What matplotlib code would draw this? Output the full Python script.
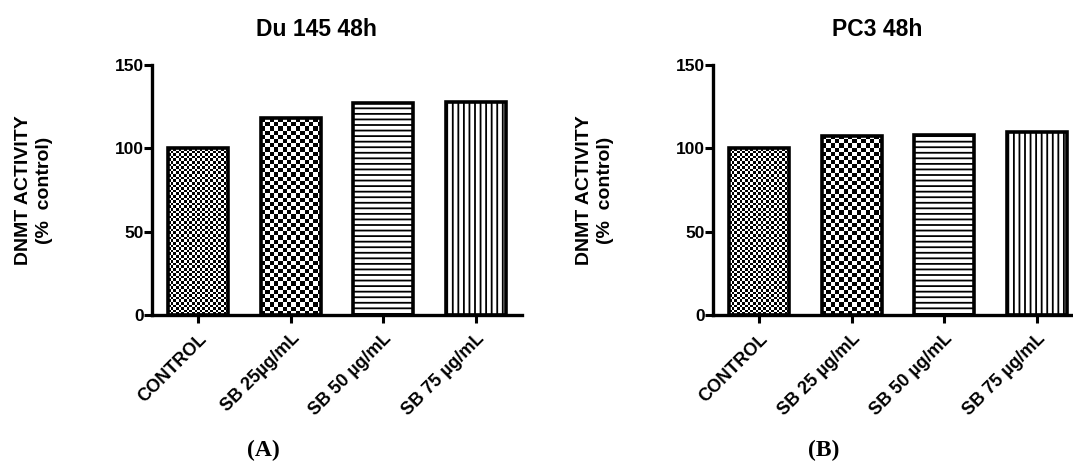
import numpy as np
import matplotlib
matplotlib.use("Agg")
import matplotlib.pyplot as plt

categories_a = ["CONTROL", "SB 25µg/mL", "SB 50 µg/mL", "SB 75 µg/mL"]
categories_b = ["CONTROL", "SB 25 µg/mL", "SB 50 µg/mL", "SB 75 µg/mL"]
values_a = [100, 118, 127, 128]
values_b = [100, 107.5, 108, 109.5]
titles = ["Du 145 48h", "PC3 48h"]
panel_tags = ["(A)", "(B)"]
ylabel = "DNMT ACTIVITY\n(%  control)"
yticks = [0, 50, 100, 150]

plt.rcParams['font.family'] = ['Liberation Sans', 'DejaVu Sans']
plt.rcParams['hatch.linewidth'] = 1.3

W, H = 1073, 461
fig = plt.figure(figsize=(W / 100, H / 100), dpi=100)

# styles: (kind, param) kind 'checker' with cell px, or hatch string
styles = [("checker", 2.6), ("checker", 4.2), ("hatch", "---"), ("hatch", "|||")]


def checker_fill(ax, bar, cell_px):
    bb = bar.get_bbox()
    x0, x1 = bb.x0, bb.x1
    y0, y1 = bb.y0, bb.y1
    p0 = ax.transData.transform((x0, y0))
    p1 = ax.transData.transform((x1, y1))
    wpx = abs(p1[0] - p0[0])
    hpx = abs(p1[1] - p0[1])
    nx = max(1, int(round(wpx / cell_px)))
    ny = max(1, int(round(hpx / cell_px)))
    arr = (np.add.outer(np.arange(ny), np.arange(nx)) % 2).astype(float)
    im = ax.imshow(arr, cmap="gray", vmin=0, vmax=1, extent=(x0, x1, y0, y1),
                   interpolation="nearest", aspect="auto", zorder=2)
    im.set_clip_path(bar)


def panel(left_px, cats, vals, title, tag):
    ax = fig.add_axes([left_px / W, (H - 315) / H, 370 / W, 250 / H])
    x = np.arange(len(cats))
    ax.set_xlim(-0.5, 3.5)
    ax.set_ylim(0, 150)
    bars = []
    for i, (xi, v) in enumerate(zip(x, vals)):
        kind, p = styles[i]
        if kind == "checker":
            b = ax.bar(xi, v, width=0.65, facecolor="none", edgecolor="black",
                       linewidth=2.6, zorder=3)[0]
        else:
            b = ax.bar(xi, v, width=0.65, facecolor="white", edgecolor="black",
                       linewidth=2.6, hatch=p, zorder=3)[0]
        bars.append(b)
    for i, b in enumerate(bars):
        kind, p = styles[i]
        if kind == "checker":
            checker_fill(ax, b, p)
    ax.set_xlim(-0.5, 3.5)
    ax.set_ylim(0, 150)
    for s in ["top", "right"]:
        ax.spines[s].set_visible(False)
    for s in ["left", "bottom"]:
        ax.spines[s].set_linewidth(2.4)
        ax.spines[s].set_zorder(5)
    ax.set_yticks(yticks)
    ax.set_xticks(x)
    ax.set_xticklabels(cats, rotation=45, ha="right", va="top",
                       rotation_mode="anchor", fontsize=13, fontweight="bold")
    ax.tick_params(axis="both", width=2.2, length=6, direction="out")
    ax.tick_params(axis="y", labelsize=12.5, pad=0)
    ax.tick_params(axis="x", pad=5)
    for lab in ax.get_yticklabels():
        lab.set_fontweight("bold")
    ax.set_ylabel(ylabel, fontsize=14, fontweight="bold", linespacing=1.25,
                  va="center")
    ax.yaxis.set_label_coords(-118 / 370, 0.5)
    ax.text(0.445, 1.14, title, transform=ax.transAxes, ha="center", va="center",
            fontsize=16.5, fontweight="bold")
    ax.text(0.3, -0.54, tag, transform=ax.transAxes, ha="center", va="center",
            fontsize=17, fontweight="bold", family=["Liberation Serif", "DejaVu Serif"])
    return ax


panel(152, categories_a, values_a, titles[0], panel_tags[0])
panel(713, categories_b, values_b, titles[1], panel_tags[1])

fig.savefig("out.png", dpi=100)
